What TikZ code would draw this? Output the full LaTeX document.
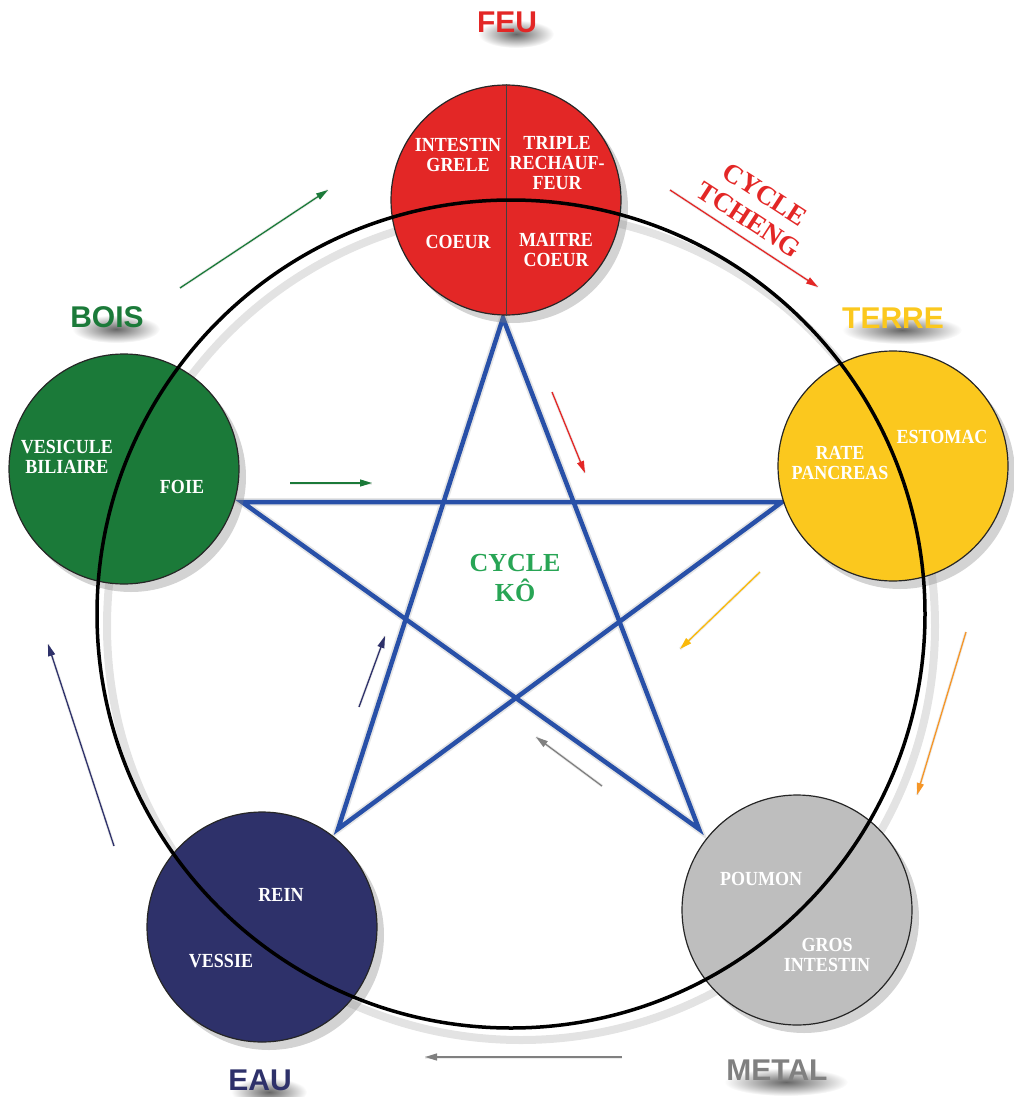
\documentclass[tikz,border=0pt]{standalone}
\usepackage{fontspec}
\setmainfont{Liberation Serif}
\newfontfamily\organfont[FakeStretch=0.9]{Liberation Serif}
\newfontfamily\titrefont{Liberation Sans}
\usetikzlibrary{arrows.meta,shadows}

\definecolor{feu}{RGB}{227,39,38}
\definecolor{bois}{RGB}{27,122,57}
\definecolor{terre}{RGB}{251,200,30}
\definecolor{eau}{RGB}{46,49,106}
\definecolor{metal}{RGB}{190,190,190}
\definecolor{metaltitre}{RGB}{128,128,128}
\definecolor{etoile}{RGB}{40,80,168}
\definecolor{ko}{RGB}{40,165,85}
\definecolor{orange}{RGB}{245,150,40}
\definecolor{jaune}{RGB}{250,185,10}

\begin{document}
\begin{tikzpicture}[x=1pt, y=-1pt,
  organe/.style = {circle, draw=black!85, line width=1.2pt, minimum size=230pt, inner sep=0pt,
    drop shadow={opacity=0.35, shadow xshift=7pt, shadow yshift=-8pt}},
  txt/.style = {text=white, font=\organfont\bfseries\fontsize{20}{20}\selectfont, align=center},
  titre/.style = {font=\titrefont\bfseries\fontsize{30}{30}\selectfont},
  fleche/.style = {line width=1.3pt, -{Triangle[length=12pt,width=7pt]}},
  branche/.style = {line width=4.5pt, line join=miter}]
\useasboundingbox (0,0) rectangle (1013,1097);

\foreach \x/\y/\r in {507/22/38, 107/317/44, 893/318/60, 260/1080/38, 777/1070/62} {
  \shade[inner color=black!60, outer color=white] (\x+9,\y+12) ellipse (\r pt and 14pt);
}

\coordinate (s1) at (503,318);
\coordinate (s2) at (782,502);
\coordinate (s3) at (699,829);
\coordinate (s4) at (338,829);
\coordinate (s5) at (242,502);

\draw[gray, opacity=.22, line width=8pt] (521,626) circle (414);
\draw[branche, gray, opacity=.2, line width=8pt, shift={(8,10)}] (s1) -- (s4) -- (s2) -- (s5) -- (s3) -- cycle;
\draw[branche, etoile] (s1) -- (s4) -- (s2) -- (s5) -- (s3) -- cycle;

\node[organe, fill=feu] (feu) at (506,200) {};
\node[organe, fill=bois] (bois) at (124,469) {};
\node[organe, fill=terre] (terre) at (893,466) {};
\node[organe, fill=metal] (metal) at (797,910) {};
\node[organe, fill=eau] (eau) at (262,927) {};
\draw[black!75, line width=1pt] (feu.north) -- (feu.south);

\draw[black, line width=3.5pt] (511,614) circle (414);

\node[txt] (ig) at (458,155) {INTESTIN\\GRELE};
\node[txt] (tr) at (557,163) {TRIPLE\\RECHAUF-\\FEUR};
\node[txt] (co) at (458,242) {COEUR};
\node[txt] (mc) at (556,250) {MAITRE\\COEUR};
\node[txt] (vb) at (67,457) {VESICULE\\BILIAIRE};
\node[txt] (fo) at (182,487) {FOIE};
\node[txt] (rp) at (840,463) {RATE\\PANCREAS};
\node[txt] (es) at (942,437) {ESTOMAC};
\node[txt] (re) at (281,895) {REIN};
\node[txt] (ve) at (221,961) {VESSIE};
\node[txt] (po) at (761,879) {POUMON};
\node[txt] (gi) at (827,955) {GROS\\INTESTIN};

\node[text=ko, font=\bfseries\fontsize{26}{30}\selectfont, align=center] (ko) at (515,578) {CYCLE\\K\^O};
\node[text=feu, font=\bfseries\fontsize{27}{30}\selectfont, align=center, rotate=-33] (tcheng) at (757,207) {CYCLE\\TCHENG};

\foreach \i/\coul/\xa/\ya/\xb/\yb in {1/bois/180/288/328/190, 2/feu/670/190/818/287,
    3/orange/966/632/917/795, 4/metaltitre/622/1057/425/1057, 5/eau/114/846/48/644,
    6/bois/290/483/372/483, 7/feu/552/392/585/473, 8/jaune/760/572/680/649,
    9/metaltitre/602/786/536/737, 10/eau/359/707/385/636} {
  \coordinate (d\i) at (\xa,\ya);
  \coordinate (f\i) at (\xb,\yb);
  \draw[line width=3pt, gray, opacity=.15, shift={(6,9)}] (d\i) -- (f\i);
  \draw[fleche, \coul] (d\i) -- (f\i);
}

\foreach \nom/\x/\y/\coul/\mot in {tfeu/507/22/feu/FEU, tbois/107/317/bois/BOIS,
    tterre/893/318/terre/TERRE, teau/260/1080/eau/EAU, tmetal/777/1070/metaltitre/METAL} {
  \node[titre, text=\coul] (\nom) at (\x,\y) {\mot};
}
\end{tikzpicture}
\end{document}
